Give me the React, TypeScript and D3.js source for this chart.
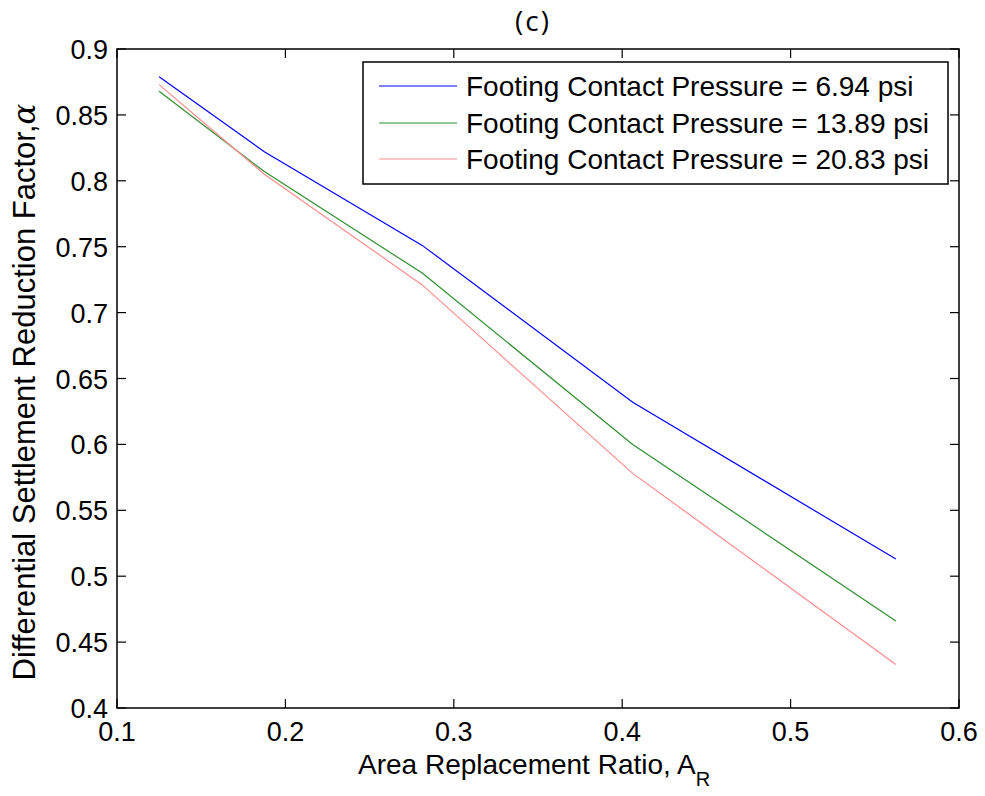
import React from "react";
import * as d3 from "d3";

const areaRatio = [0.125, 0.1875, 0.28125, 0.40625, 0.5625];
const alpha694 = [0.879, 0.822, 0.751, 0.632, 0.513];
const alpha1389 = [0.868, 0.807, 0.73, 0.6, 0.466];
const alpha2083 = [0.873, 0.805, 0.721, 0.578, 0.433];
const seriesNames = [
  "Footing Contact Pressure = 6.94 psi",
  "Footing Contact Pressure = 13.89 psi",
  "Footing Contact Pressure = 20.83 psi",
];
const seriesColors = ["#0000ff", "#2f8f2f", "#ff8c8c"];
const xTicks = [0.1, 0.2, 0.3, 0.4, 0.5, 0.6];
const yTicks = [0.4, 0.45, 0.5, 0.55, 0.6, 0.65, 0.7, 0.75, 0.8, 0.85, 0.9];

const W = 985;
const H = 796;
const L = 117, R = 959, T = 49, B = 708;
const FONT = "'Liberation Sans', Arial, Helvetica, sans-serif";

export default function App() {
  const x = d3.scaleLinear().domain([0.1, 0.6]).range([L, R]);
  const y = d3.scaleLinear().domain([0.4, 0.9]).range([B, T]);
  const line = d3
    .line<[number, number]>()
    .x((d) => x(d[0]))
    .y((d) => y(d[1]));
  const series = [alpha694, alpha1389, alpha2083];
  const tl = 9;
  const fmt = (v: number) => String(+v.toFixed(2));

  const legL = 363, legT = 62, legR = 948, legB = 184;
  const rowY = [86, 123, 159];

  return (
    <svg
      width={W}
      height={H}
      style={{ position: "absolute", left: 0, top: 0, background: "#fff" }}
      fontFamily={FONT}
    >
      <rect x={0} y={0} width={W} height={H} fill="#fff" />
      {series.map((s, i) => (
        <path
          key={i}
          d={line(areaRatio.map((a, j) => [a, s[j]] as [number, number])) || ""}
          fill="none"
          stroke={seriesColors[i]}
          strokeWidth={1.2}
        />
      ))}
      <rect x={L} y={T} width={R - L} height={B - T} fill="none" stroke="#000" strokeWidth={1.5} />
      {xTicks.map((t) => (
        <g key={"x" + t}>
          <line x1={x(t)} x2={x(t)} y1={B} y2={B - tl} stroke="#000" strokeWidth={1.2} />
          <line x1={x(t)} x2={x(t)} y1={T} y2={T + tl} stroke="#000" strokeWidth={1.2} />
          <text x={x(t)} y={741} textAnchor="middle" fontSize={27} fill="#000">
            {fmt(t)}
          </text>
        </g>
      ))}
      {yTicks.map((t) => (
        <g key={"y" + t}>
          <line x1={L} x2={L + tl} y1={y(t)} y2={y(t)} stroke="#000" strokeWidth={1.2} />
          <line x1={R} x2={R - tl} y1={y(t)} y2={y(t)} stroke="#000" strokeWidth={1.2} />
          <text x={108} y={y(t) + 10} textAnchor="end" fontSize={27} fill="#000">
            {fmt(t)}
          </text>
        </g>
      ))}
      <text
        x={533}
        y={31}
        textAnchor="middle"
        fontSize={28}
        fontFamily="'Open Sans', 'Noto Sans', sans-serif"
        letterSpacing={2}
        fill="#000"
      >
        (c)
      </text>
      <text x={358} y={774} fontSize={28} fill="#000">
        Area Replacement Ratio, A
        <tspan fontSize={20} dy={12}>R</tspan>
      </text>
      <text
        transform={`translate(35, 392) rotate(-90)`}
        textAnchor="middle"
        fontSize={31}
        fill="#000"
      >
        Differential Settlement Reduction Factor,
        <tspan fontFamily="'DejaVu Serif', serif" fontStyle="italic">α</tspan>
      </text>
      <rect x={legL} y={legT} width={legR - legL} height={legB - legT} fill="#fff" stroke="#000" strokeWidth={1.5} />
      {seriesNames.map((n, i) => (
        <g key={n}>
          <line x1={379} x2={457} y1={rowY[i]} y2={rowY[i]} stroke={seriesColors[i]} strokeWidth={1.2} />
          <text x={466} y={rowY[i] + 10} fontSize={28} fill="#000">
            {n}
          </text>
        </g>
      ))}
    </svg>
  );
}
